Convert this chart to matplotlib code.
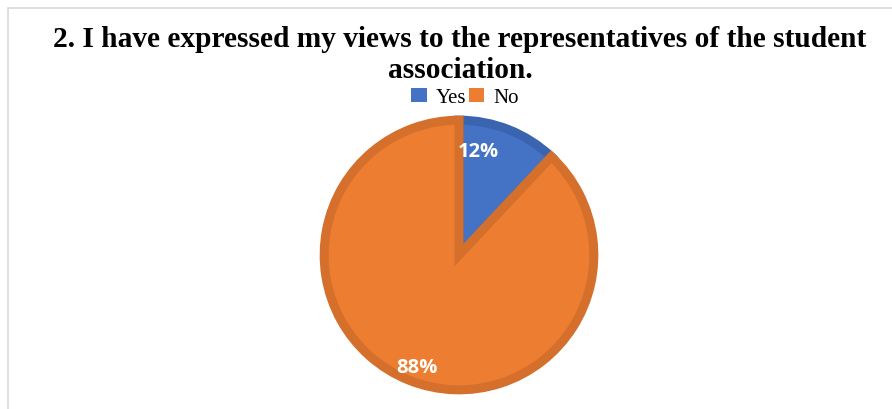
import matplotlib.pyplot as plt
from matplotlib.patches import Rectangle

# survey answers for question 2
labels = ["Yes", "No"]
shares = [12, 88]
colors = ["#4472C4", "#ED7D31"]
edge_colors = ["#3B64B0", "#D5702C"]
title = "2. I have expressed my views to the representatives of the student\nassociation."

W, H = 892, 409
fig = plt.figure(figsize=(W / 100, H / 100), dpi=100)
fig.patch.set_facecolor("white")

# thin frame around the chart area
fig.patches.append(Rectangle((8 / W, -0.1), 1.2, 1 - 8 / H + 0.1, transform=fig.transFigure,
                             fill=False, edgecolor="#d9d9d9", linewidth=1.2))

fig.text(460 / W, 1 - 55 / H, title, ha="center", va="center", family="Liberation Serif",
         fontweight="bold", fontsize=21.2, linespacing=1.2, color="black")

# pie, centre (459, 255) px, radius ~138 px
cx, cy, r = 459, 255, 139
ax = fig.add_axes([(cx - r) / W, (H - cy - r) / H, 2 * r / W, 2 * r / H])
wedges, _, pct = ax.pie(shares, colors=colors, startangle=90, counterclock=False, radius=0.97,
                        autopct="%d%%", pctdistance=0.8,
                        wedgeprops=dict(linewidth=6.5, joinstyle="miter"))
for w, ec in zip(wedges, edge_colors):
    w.set_edgecolor(ec)
ax.set_xlim(-1, 1)
ax.set_ylim(-1, 1)
ax.set_aspect("equal")
ax.axis("off")

# label placement
pct[0].set_position((0.14, 0.74))
pct[1].set_position((-0.30, -0.81))
for t in pct:
    t.set_color("white")
    t.set_fontweight("bold")
    t.set_fontsize(14.5)
    t.set_family("Open Sans")
    t.set_ha("center")
    t.set_va("center")

leg = fig.legend(wedges, labels, loc="center", bbox_to_anchor=(465 / W, 1 - 98 / H), ncol=2,
                 frameon=False, prop={"family": "Liberation Serif", "size": 15},
                 handlelength=0.75, handleheight=0.65, handletextpad=0.45, columnspacing=0.1,
                 borderpad=0)
for h, c in zip(leg.legend_handles, colors):
    h.set_edgecolor(c)
    h.set_linewidth(0)

fig.savefig("out.png", dpi=100)
